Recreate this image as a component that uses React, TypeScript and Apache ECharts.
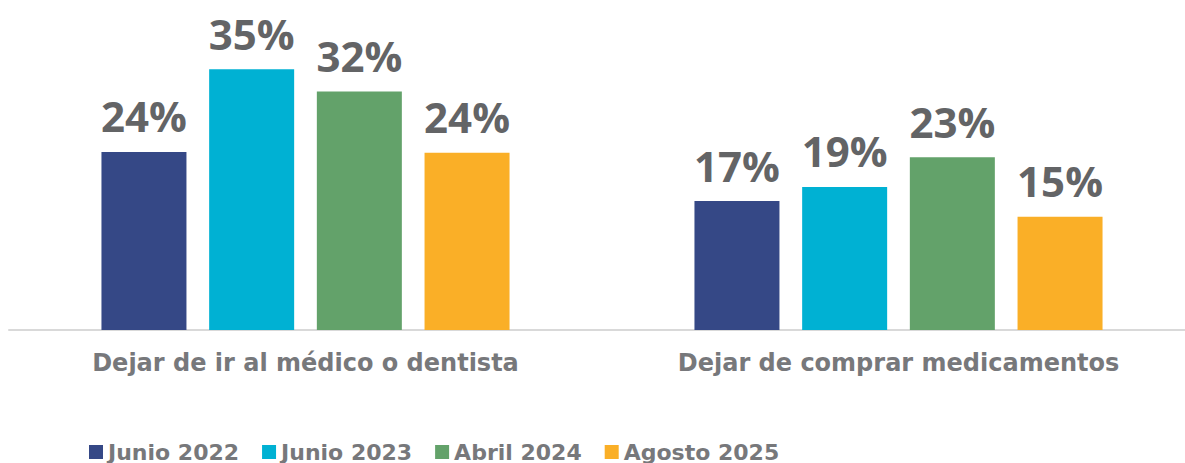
import React, { useEffect, useRef } from "react";
import * as echarts from "echarts";

const categories = ["Dejar de ir al médico o dentista", "Dejar de comprar medicamentos"];
const seriesNames = ["Junio 2022", "Junio 2023", "Abril 2024", "Agosto 2025"];
const junio2022 = [23.9, 17.3];
const junio2023 = [35.0, 19.2];
const abril2024 = [32.0, 23.2];
const agosto2025 = [23.8, 15.2];
const colors = ["#354886", "#00B1D3", "#63A26A", "#FAAF27"];

export default function App() {
  const ref = useRef<HTMLDivElement>(null);
  useEffect(() => {
    if (!ref.current) return;
    const chart = echarts.init(ref.current, null, { renderer: "svg" });
    const values = [junio2022, junio2023, abril2024, agosto2025];
    chart.setOption({
      animation: false,
      color: colors,
      grid: { left: 9, width: 1186, top: 32, height: 298 },
      legend: {
        data: seriesNames,
        left: 84,
        top: 436,
        icon: "rect",
        itemWidth: 14,
        itemHeight: 14,
        itemGap: 23,
        textStyle: {
          fontFamily: "DejaVu Sans",
          fontWeight: "bold",
          fontSize: 22,
          color: "#77787b",
        },
      },
      xAxis: {
        type: "category",
        data: categories,
        axisLine: { lineStyle: { color: "#d9d9d9", width: 2 } },
        axisTick: { show: false },
        axisLabel: {
          margin: 21,
          fontFamily: "DejaVu Sans",
          fontWeight: "bold",
          fontSize: 24,
          color: "#77787b",
        },
      },
      yAxis: { type: "value", min: 0, max: 40, show: false, splitLine: { show: false } },
      series: seriesNames.map((name, i) => ({
        name,
        type: "bar",
        data: values[i],
        barWidth: 85,
        barGap: "26.7%",
        label: {
          show: true,
          position: "top",
          distance: 15,
          formatter: (p: any) => Math.round(p.value) + "%",
          fontFamily: "Open Sans",
          fontWeight: "bold",
          fontSize: 42,
          color: "#636466",
        },
      })),
    });
    return () => chart.dispose();
  }, []);
  return (
    <div
      style={{
        position: "absolute",
        left: 0,
        top: 0,
        width: 1185,
        height: 463,
        overflow: "hidden",
      }}
    >
      <div ref={ref} style={{ width: 1200, height: 463 }} />
    </div>
  );
}
